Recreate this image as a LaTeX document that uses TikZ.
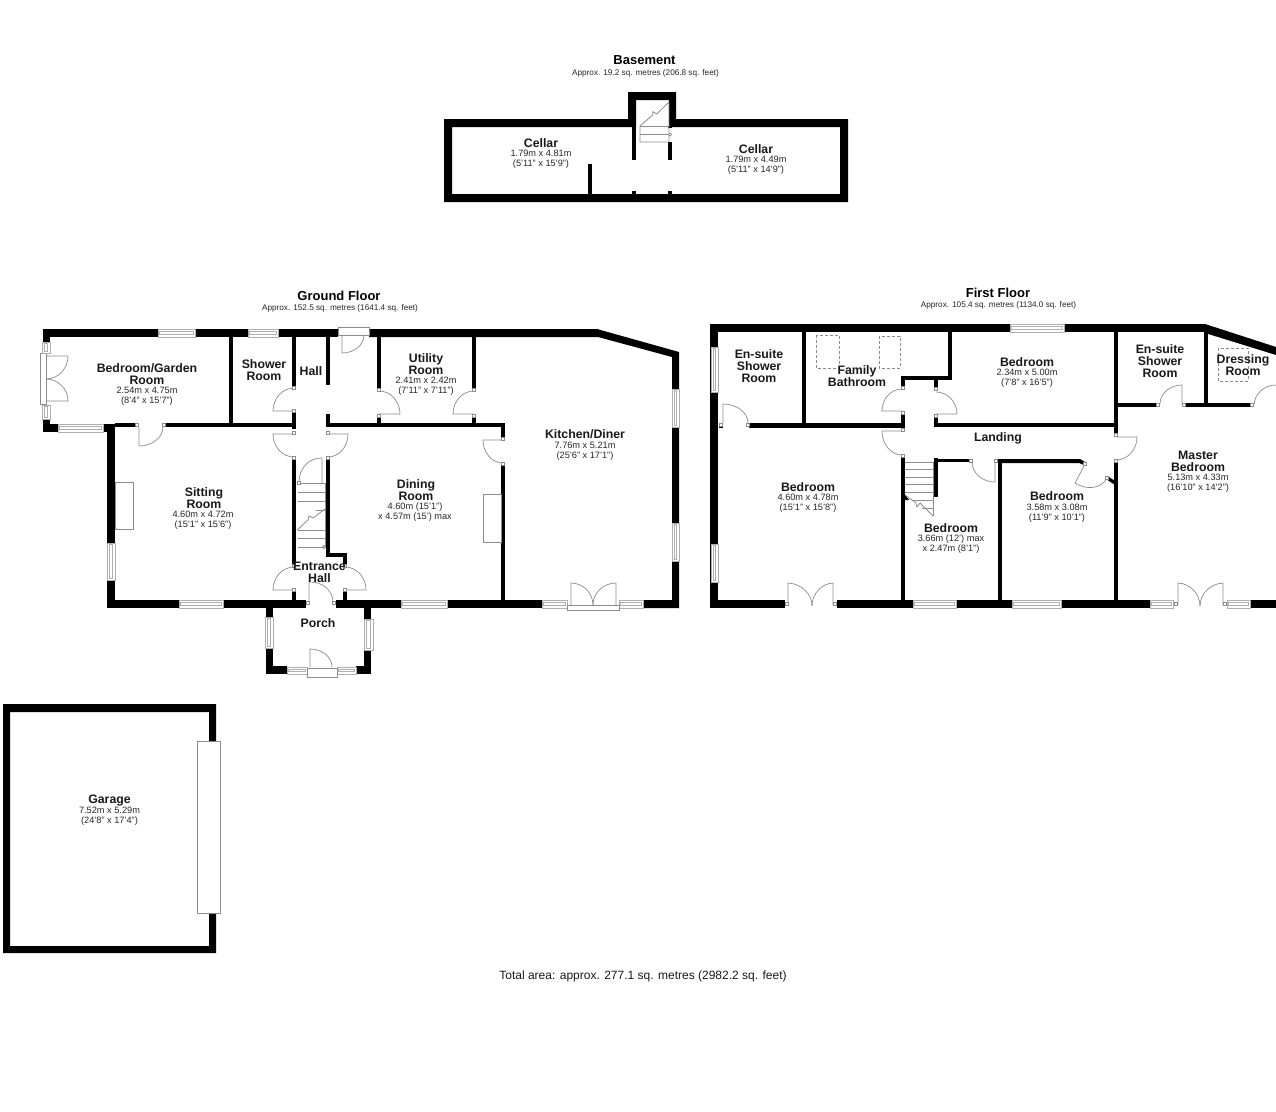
\documentclass[tikz,border=0pt]{standalone}
\usepackage{fontspec}
\setmainfont{Liberation Sans}
\definecolor{wallc}{HTML}{000000}
\definecolor{thin}{HTML}{8C8C8C}
\tikzset{
  wallfill/.style={fill=wallc,draw=none},
  doorl/.style={draw=thin,line width=0.7pt},
  stairl/.style={draw=thin,line width=0.8pt},
  fixt/.style={draw=thin,line width=0.7pt,fill=white},
  dashl/.style={draw=thin,line width=0.7pt,densely dashed},
  winl/.style={draw=thin!70,line width=0.7pt,fill=white},
  title/.style={font=\fontsize{13}{14}\selectfont\bfseries,inner sep=0pt,align=center},
  subt/.style={font=\fontsize{8.2}{10}\selectfont,inner sep=0pt,align=center,text=black!85},
  rn/.style={font=\fontsize{12.3}{12}\selectfont\bfseries,inner sep=0pt,align=center,text=black!90},
  rd/.style={font=\fontsize{9.2}{10}\selectfont,inner sep=0pt,align=center,text=black!85},
  total/.style={font=\fontsize{12}{14}\selectfont,inner sep=0pt,text=black!90}
}
\newcommand\wl[4]{\fill[wallfill] (#1,#2) rectangle (#3,#4);}
\newcommand\winh[4]{\draw[winl] (#1,#3) rectangle (#2,#4);
  \draw[winl] (#1+1.5,#3+2.5) rectangle (#2-1.5,#4-2.5);}
\newcommand\winv[4]{\draw[winl] (#3,#1) rectangle (#4,#2);
  \draw[winl] (#3+2.5,#1+1.5) rectangle (#4-2.5,#2-1.5);}
\newcommand\djamb[2]{\draw[fixt] (#1-1.8,#2-1.8) rectangle (#1+1.8,#2+1.8);}
\newcommand\dleaf[6]{%
  \pgfmathsetmacro\cax{#3+0.552*(#5-#1)}%
  \pgfmathsetmacro\cay{#4+0.552*(#6-#2)}%
  \pgfmathsetmacro\cbx{#5+0.552*(#3-#1)}%
  \pgfmathsetmacro\cby{#6+0.552*(#4-#2)}%
  \draw[doorl] (#1,#2) -- (#3,#4) .. controls (\cax,\cay) and (\cbx,\cby) .. (#5,#6);}
\begin{document}
\begin{tikzpicture}[x=1pt,y=-1pt]
\useasboundingbox (0,0) rectangle (1276,1111);
\fill[white] (0,0) rectangle (1276,1111);

%%% ---------- BASEMENT ----------
\fill[wallfill,even odd rule]
  (444,119) -- (628,119) -- (628,92) -- (676,92) -- (676,119) -- (848,119) -- (848,202) -- (444,202) -- cycle
  (452,127) -- (632,127) -- (636,127) -- (636,100) -- (669,100) -- (669,127) -- (840,127) -- (840,194) -- (452,194) -- cycle;
\wl{632}{119}{636}{160}
\wl{668}{127}{672}{128}
\wl{668}{142}{672}{160}
\wl{632}{191}{636}{194}
\wl{668}{191}{672}{194}
\wl{588}{164}{592}{194}
\draw[stairl] (669,102) -- (656.7,114) -- (652.7,111.7) -- (652.7,115) -- (640,126) -- (640,142) -- (669,142) -- (669,102);
\draw[stairl] (640,126) -- (669,126) (640,134) -- (669,134);
\draw[stairl,fill=white] (670,134.5) circle (1.6);

%%% ---------- GROUND FLOOR ----------
% top wall, with kitchen corner
\wl{43}{329}{338}{337}
\fill[wallfill] (369,329) -- (597,329) -- (679,352) -- (679,608) -- (643,608) -- (643,600) -- (672,600) -- (672,357) -- (598,337) -- (369,337) -- cycle;
\winh{158}{195}{329}{337}
\winh{248}{278}{329}{337}
% left block
\wl{43}{329}{50}{342}
\wl{43}{419}{50}{432}
\wl{43}{424}{58}{432}
\wl{103}{424}{115}{432}
\wl{107}{424}{115}{608}
% bottom wall
\wl{107}{600}{306}{608}
\wl{336}{600}{542}{608}
\wl{115}{423}{137}{427}
\wl{165}{423}{293}{427}
\wl{229}{337}{233}{425}
% hall walls
\wl{292}{337}{296}{386}
\wl{292}{413}{296}{429}
\wl{326}{337}{330}{385}
\wl{326}{414}{330}{427}
\wl{326}{423}{505}{427}
\wl{292}{460}{296}{565}
\wl{326}{458}{330}{557}
\wl{326}{553}{347}{557}
\wl{343}{553}{347}{565}
\wl{292}{591}{296}{602}
\wl{343}{592}{347}{602}
% utility
\wl{377}{337}{381}{389}
\wl{377}{418}{381}{425}
\wl{472}{337}{476}{389}
\wl{472}{418}{476}{425}
% dining / kitchen
\wl{501}{423}{505}{438}
\wl{501}{464}{505}{602}
% fireplaces
\draw[fixt] (483,494) rectangle (501,542);
\draw[fixt] (115,482) rectangle (133,529);
% windows ground
\winh{179}{223}{600}{608}
\winh{401}{447}{600}{608}
\winh{542}{567}{600}{608}
\winh{619}{643}{600}{608}
\winh{58}{103}{424}{432}
\winv{543}{580}{107}{115}
\winv{389}{427}{672}{679}
\winv{523}{561}{672}{679}
% french doors bedroom/garden
\draw[fixt] (40,353) rectangle (46,404);
\winv{342}{353}{42}{50}
\winv{405}{419}{42}{50}
\dleaf{46}{356}{68}{356}{46}{379}
\dleaf{46}{401}{68}{401}{46}{379}
% kitchen french doors
\draw[fixt] (567,605) rectangle (619,610);
\dleaf{571}{605}{571}{583}{593}{605}
\dleaf{616}{605}{616}{583}{593}{605}
% front top door
\draw[fixt] (338,327) rectangle (369,335);
\dleaf{342}{335}{342}{353}{364}{335}
% other ground doors
\dleaf{139}{427}{139}{446}{163}{427}
\djamb{137}{425}\djamb{164}{425}
\dleaf{294}{411}{273}{411}{294}{388}
\djamb{294}{388}\djamb{294}{411}
\dleaf{294}{434}{273}{434}{294}{457}
\djamb{294}{433}\djamb{294}{458}
\dleaf{328}{434}{348}{434}{328}{457}
\djamb{328}{433}\djamb{328}{458}
\dleaf{379}{414}{400}{414}{379}{391}
\djamb{379}{390}\djamb{379}{416}
\dleaf{474}{414}{453}{414}{474}{391}
\djamb{474}{390}\djamb{474}{416}
\dleaf{503}{440}{483}{440}{503}{463}
\djamb{503}{439}\djamb{503}{464}
\dleaf{294}{590}{273}{590}{294}{567}
\djamb{294}{566}\djamb{294}{590}
\dleaf{345}{590}{366}{590}{345}{567}
\djamb{345}{566}\djamb{345}{590}
\dleaf{309}{603}{309}{582}{333}{602}
\djamb{308}{603}\djamb{334}{603}
% stairs ground
\dleaf{322}{483}{322}{458}{299}{482}
\draw[stairl] (298,483) -- (325,483) -- (325,547) -- (298,547);
\draw[stairl] (298,492) -- (325,492) (298,501) -- (325,501) (316,510)--(325,510)
  (298,530) -- (325,530) (298,538) -- (325,538);
\draw[stairl] (297,530) -- (308,520) -- (309,516) -- (313,518) -- (325,509);
\draw[stairl,fill=white] (324,547) circle (1.5);
\djamb{299}{483}

%%% Porch
\wl{266}{608}{273}{674}
\wl{364}{608}{371}{674}
\wl{266}{666}{287}{674}
\wl{356}{666}{371}{674}
\winh{287}{307}{667}{674}
\winh{337}{356}{667}{674}
\draw[fixt] (307,668) rectangle (337,677);
\winv{617}{648}{265}{273}
\winv{619}{650}{364}{373}
\dleaf{310}{667}{310}{649}{332}{667}

%%% ---------- GARAGE ----------
\fill[wallfill,even odd rule] (3,704) rectangle (216,953) (10,712) rectangle (209,946);
\draw[fixt] (197,741) rectangle (220,913);

%%% ---------- FIRST FLOOR ----------
\wl{710}{324}{1205}{332}
\fill[wallfill] (1205,324) -- (1276,347) -- (1276,355) -- (1205,333) -- cycle;
\wl{710}{324}{718}{608}
% bottom
\wl{710}{600}{785}{608}
\wl{837}{600}{1173}{608}
\wl{1227}{600}{1276}{608}
% partitions
\wl{802}{332}{806}{425}
\wl{719}{423}{723}{428}
\wl{749}{423}{905}{428}
\wl{948}{332}{952}{380}
\wl{901}{376}{952}{380}
\wl{901}{376}{905}{387}
\wl{934}{380}{938}{387}
\wl{901}{415}{905}{429}
\wl{934}{417}{938}{427}
\wl{934}{423}{1118}{427}
\wl{901}{458}{905}{602}
\wl{934}{458}{938}{497}
\wl{934}{459}{970}{462}
\wl{998}{459}{1002}{602}
\fill[wallfill] (998,459) -- (1080,459) -- (1086,462.5) -- (1084,465) -- (1079,463) -- (998,463) -- cycle;
\fill[wallfill] (1109,477) -- (1116.5,482) -- (1115,485) -- (1107.5,480) -- cycle;
\wl{1114}{332}{1118}{435}
\wl{1114}{461}{1118}{602}
\wl{1118}{403}{1158}{407}
\wl{1186}{403}{1251}{407}
\wl{1204}{332}{1208}{405}
% windows first
\winh{1010}{1064}{324}{332}
\winv{347}{392}{711}{718}
\winv{544}{582}{711}{718}
\winh{913}{956}{600}{608}
\winh{1012}{1061}{600}{608}
\winh{1150}{1173}{600}{608}
\winh{1227}{1250}{600}{608}
% dashed rectangles
\draw[dashl] (816,335) rectangle (839,368);
\draw[dashl] (879,336) rectangle (900,368);
\draw[dashl] (1218,348) rectangle (1248,381);
% doors
\dleaf{788}{605}{788}{583}{812}{606}
\dleaf{833}{605}{833}{583}{812}{606}
\djamb{787}{604}\djamb{835}{604}
\dleaf{1178}{605}{1178}{583}{1200}{606}
\dleaf{1223}{605}{1223}{583}{1200}{606}
\djamb{1176}{604}\djamb{1225}{604}
\dleaf{723}{423}{723}{404}{748}{423}
\djamb{721}{425}\djamb{748}{425}
\dleaf{902}{411}{882}{411}{902}{389}
\djamb{903}{388}\djamb{903}{413}
\dleaf{902}{431}{882}{431}{902}{455}
\djamb{903}{430}\djamb{903}{456}
\dleaf{936}{414}{957}{414}{936}{392}
\djamb{936}{389}\djamb{936}{416}
\dleaf{995}{462}{995}{482}{972}{462}
\djamb{971}{461}\djamb{996}{461}
\dleaf{1085}{464}{1075}{483}{1107}{478}
\djamb{1085}{464}\djamb{1107}{478}
\dleaf{1116}{437}{1137}{437}{1116}{460}
\djamb{1116}{435}\djamb{1116}{461}
\dleaf{1182}{404}{1182}{385}{1160}{404}
\djamb{1158}{405}\djamb{1184}{405}
\draw[doorl] (1254,404) .. controls (1255,394) and (1264,385) .. (1276,385);
\djamb{1252}{405}
% stairs first
\draw[stairl] (905,462) -- (933,462) -- (933,516);
\draw[stairl] (905,469) -- (933,469) (905,477) -- (933,477) (905,484) -- (933,484) (905,492) -- (933,492)
  (912,500) -- (933,500) (922,508) -- (933,508);
\draw[stairl] (905,495) -- (916,503) -- (917,507) -- (920,503) -- (933,516);
\fill[wallfill] (905,495) -- (909,500) -- (905,500) -- cycle;

%%% ---------- TEXT ----------
\node[title] (tbase) at (644.5,60.5) {Basement};
\node[subt] (sbase) at (645.5,73) {Approx. 19.2 sq. metres (206.8 sq. feet)};
\node[rn] (c1n) at (541,143) {Cellar};
\node[rd] (c1d) at (541,159) {1.79m x 4.81m\\(5'11" x 15'9")};
\node[rn] (c2n) at (756,149) {Cellar};
\node[rd] (c2d) at (756,165) {1.79m x 4.49m\\(5'11" x 14'9")};

\node[title] (tg) at (339,295.5) {Ground Floor};
\node[subt] (sg) at (340,308) {Approx. 152.5 sq. metres (1641.4 sq. feet)};
\node[title] (tf) at (998,293) {First Floor};
\node[subt] (sf) at (998.5,305) {Approx. 105.4 sq. metres (1134.0 sq. feet)};

\node[rn] (bgn) at (147,374) {Bedroom/Garden\\Room};
\node[rd] (bgd) at (147,396) {2.54m x 4.75m\\(8'4" x 15'7")};
\node[rn] (srn) at (264,370) {Shower\\Room};
\node[rn] (haln) at (311,371) {Hall};
\node[rn] (sitn) at (204,498.5) {Sitting\\Room};
\node[rd] (sitd) at (203,520) {4.60m x 4.72m\\(15'1" x 15'6")};
\node[rn] (ehn) at (319.5,572.5) {Entrance\\Hall};
\node[rn] (porn) at (318,623.5) {Porch};
\node[rn] (utn) at (426,364) {Utility\\Room};
\node[rd] (utd) at (426,386.5) {2.41m x 2.42m\\(7'11" x 7'11")};
\node[rn] (kin) at (585,434.5) {Kitchen/Diner};
\node[rd] (kid) at (585,451) {7.76m x 5.21m\\(25'6" x 17'1")};
\node[rn] (din) at (416,490) {Dining\\Room};
\node[rd] (did) at (415,512.5) {4.60m (15'1")\\x 4.57m (15') max};
\node[rn] (gan) at (109.5,800) {Garage};
\node[rd] (gad) at (109.5,816.5) {7.52m x 5.29m\\(24'8" x 17'4")};

\node[rn] (e1n) at (759,366) {En-suite\\Shower\\Room};
\node[rn] (fbn) at (857,376) {Family\\Bathroom};
\node[rn] (b2n) at (1027,362.5) {Bedroom};
\node[rd] (b2d) at (1027,378) {2.34m x 5.00m\\(7'8" x 16'5")};
\node[rn] (e2n) at (1160,361) {En-suite\\Shower\\Room};
\node[rn] (drn) at (1243,365) {Dressing\\Room};
\node[rn] (lan) at (998,438.5) {Landing};
\node[rn] (b1n) at (808,487) {Bedroom};
\node[rd] (b1d) at (808,503) {4.60m x 4.78m\\(15'1" x 15'8")};
\node[rn] (b3n) at (951,528) {Bedroom};
\node[rd] (b3d) at (951,544) {3.66m (12') max\\x 2.47m (8'1")};
\node[rn] (b4n) at (1057,496.5) {Bedroom};
\node[rd] (b4d) at (1057,513) {3.58m x 3.08m\\(11'9" x 10'1")};
\node[rn] (man) at (1198,461) {Master\\Bedroom};
\node[rd] (mad) at (1198,483) {5.13m x 4.33m\\(16'10" x 14'2")};

\node[total] (tot) at (643,976) {Total area: approx. 277.1 sq. metres (2982.2 sq. feet)};
\end{tikzpicture}
\end{document}
